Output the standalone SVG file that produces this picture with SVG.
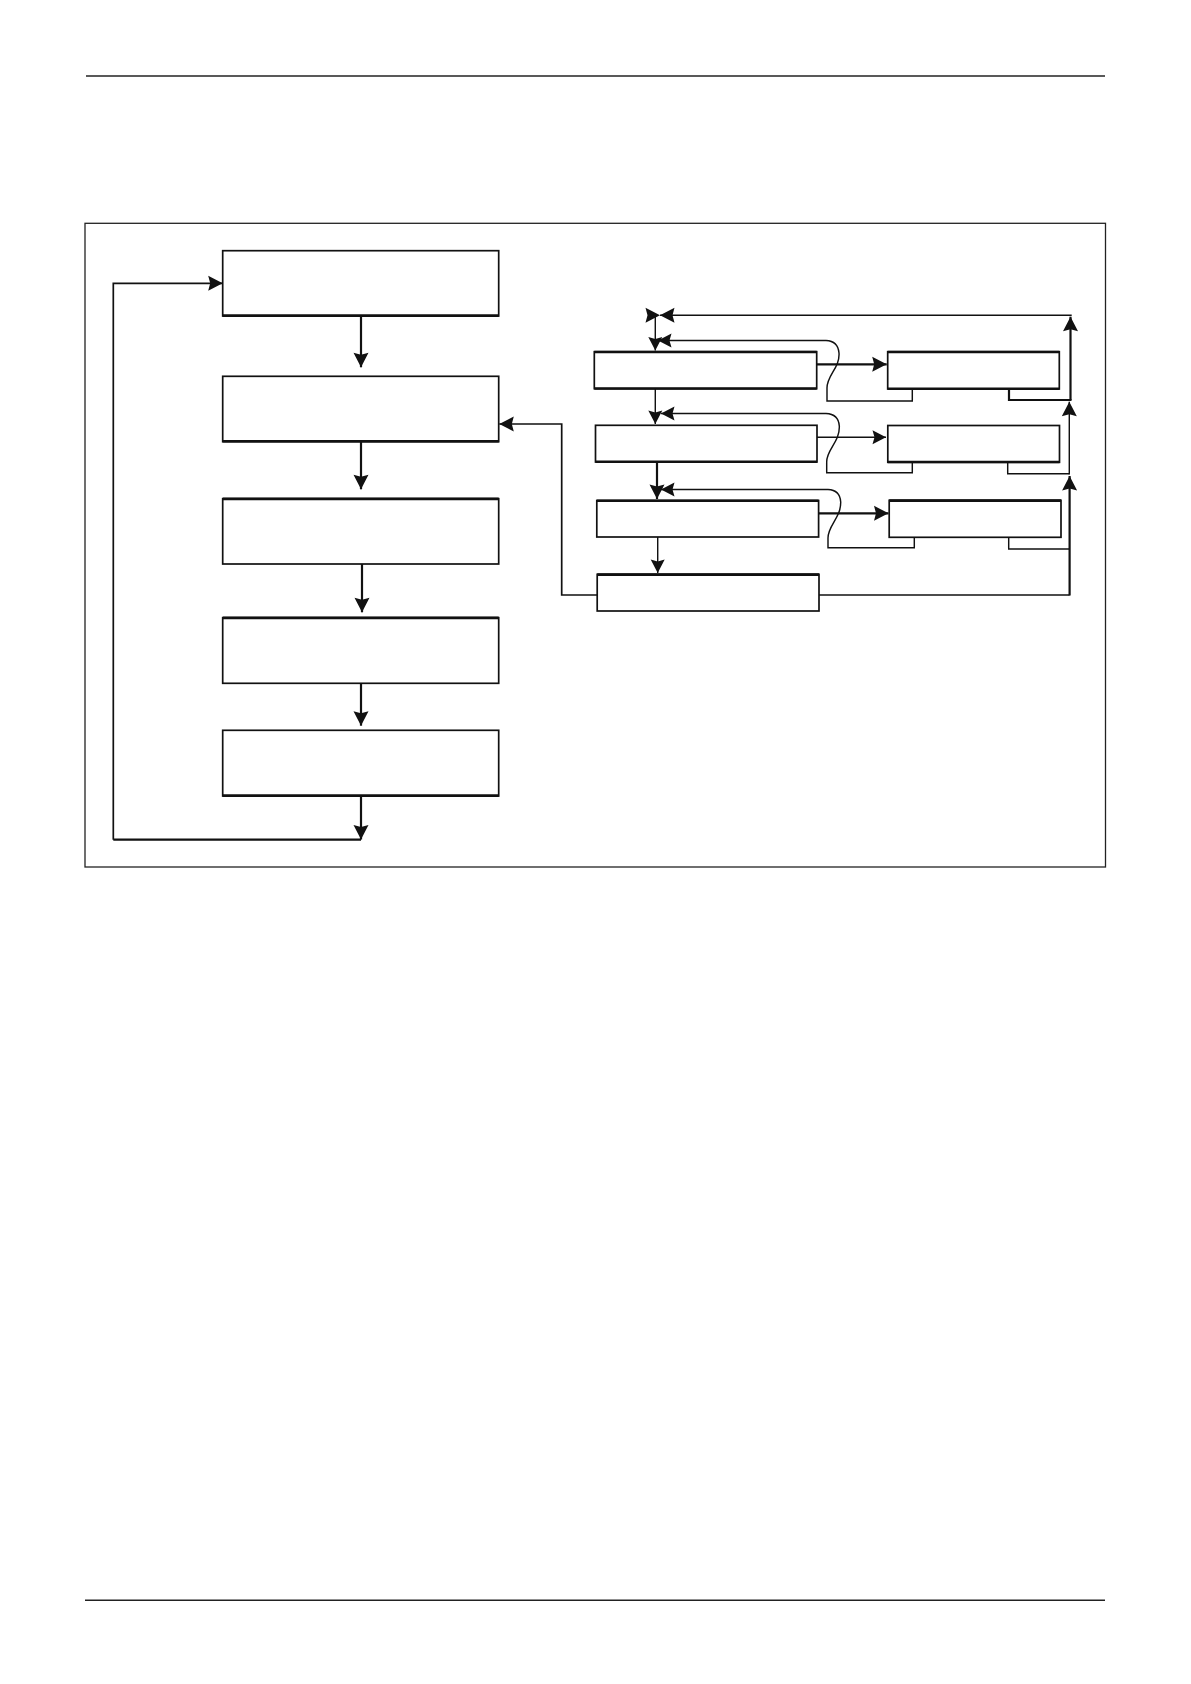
<svg xmlns="http://www.w3.org/2000/svg" width="1191" height="1684" viewBox="0 0 1191 1684">
<style>
.box{fill:#fff;stroke:#111;stroke-width:1.7}
.bb{stroke:#111;stroke-width:2.6;fill:none}
.c{fill:none;stroke:#111;stroke-linejoin:miter}
.t1{stroke-width:1.45}
.t2{stroke-width:1.7}
.t3{stroke-width:2.2}
.rule{stroke:#222;stroke-width:1.6}
</style>
<defs>
<marker id="ah" viewBox="-16 -8 17 16" markerWidth="17" markerHeight="16" refX="0" refY="0" markerUnits="userSpaceOnUse" orient="auto">
<path d="M0,0 L-14.5,-7.5 L-12.5,0 L-14.5,7.5 Z" fill="#111"/>
</marker>
<marker id="as" viewBox="-15 -8 16 16" markerWidth="16" markerHeight="16" refX="0" refY="0" markerUnits="userSpaceOnUse" orient="auto">
<path d="M0,0 L-13.5,-7 L-11.5,0 L-13.5,7 Z" fill="#111"/>
</marker>
</defs>
<rect width="1191" height="1684" fill="#fff"/>
<line class="rule" x1="86" y1="76" x2="1105" y2="76"/>
<line class="rule" x1="85" y1="1600.3" x2="1105" y2="1600.3"/>
<rect x="85" y="223.3" width="1020.5" height="643.7" fill="none" stroke="#222" stroke-width="1.3"/>

<g id="box1"><rect class="box" x="222.7" y="250.7" width="276" height="65.3"/><line class="bb" x1="222.7" y1="315.6" x2="498.7" y2="315.6"/></g>
<g id="box2"><rect class="box" x="222.7" y="376.3" width="276" height="65.4"/><line class="bb" x1="222.7" y1="441.3" x2="498.7" y2="441.3"/></g>
<g id="box3"><rect class="box" x="222.7" y="498.7" width="276" height="65.3"/><line class="bb" x1="222.7" y1="498.9" x2="498.7" y2="498.9"/></g>
<g id="box4"><rect class="box" x="222.7" y="617.7" width="276" height="65.6"/><line class="bb" x1="222.7" y1="617.9" x2="498.7" y2="617.9"/></g>
<g id="box5"><rect class="box" x="222.7" y="730.3" width="276" height="65.7"/><line class="bb" x1="222.7" y1="795.6" x2="498.7" y2="795.6"/></g>

<g id="boxA"><rect class="box" x="594.3" y="351.7" width="222.4" height="37"/><line class="bb" x1="594.3" y1="388.5" x2="816.7" y2="388.5"/><line class="bb" x1="594.3" y1="352" x2="816.7" y2="352"/></g>
<g id="boxA2"><rect class="box" x="887.7" y="351.7" width="171.6" height="37.3"/><line class="bb" x1="887.7" y1="388.7" x2="1059.3" y2="388.7"/><line class="bb" x1="887.7" y1="352" x2="1059.3" y2="352"/></g>
<g id="boxB"><rect class="box" x="595.5" y="425.3" width="221.5" height="36.7"/><line class="bb" x1="595.5" y1="461.7" x2="817" y2="461.7"/></g>
<g id="boxB2"><rect class="box" x="887.8" y="425.5" width="171.7" height="36.8"/><line class="bb" x1="887.8" y1="462" x2="1059.5" y2="462"/></g>
<g id="boxC"><rect class="box" x="596.8" y="500.5" width="221.8" height="36.5"/><line class="bb" x1="596.8" y1="500.8" x2="818.6" y2="500.8"/></g>
<g id="boxC2"><rect class="box" x="889.2" y="500.3" width="171.8" height="37"/><line class="bb" x1="889.2" y1="500.6" x2="1061" y2="500.6"/></g>
<g id="boxD"><rect class="box" x="597.2" y="574.3" width="221.8" height="36.7"/><line class="bb" x1="597.2" y1="574.6" x2="819" y2="574.6"/></g>

<g id="connectors">
<path class="c t3" d="M361 316 V367.3" marker-end="url(#ah)"/>
<path class="c t3" d="M361 441.7 V489.3" marker-end="url(#ah)"/>
<path class="c t3" d="M362 564 V612.3" marker-end="url(#ah)"/>
<path class="c t3" d="M361 683.3 V725.7" marker-end="url(#ah)"/>
<path class="c t3" d="M361 796 V839.5" marker-end="url(#ah)"/>
<path class="c t3" d="M361 839.7 H113.3"/>
<path class="c t2" d="M113.3 839.7 V283.3 H222.7" marker-end="url(#ah)"/>
<path class="c t2" d="M597.2 595 H561.7 V424 H499.3" marker-end="url(#ah)"/>

<path class="c t1" d="M1071.7 315.3 H660" marker-end="url(#ah)"/>
<path d="M660 315.3 L645.5 307.8 L647.5 315.3 L645.5 322.8 Z" fill="#111"/>
<path class="c t1" d="M655.3 315.3 V350.5" marker-end="url(#as)"/>
<path class="c t3" d="M1070.5 400 V316.7" marker-end="url(#ah)"/>
<path class="c t1" d="M912.3 389 V401 H827 V388 C827 375 840 368 839 353 Q838 341 826 340.5 H658" marker-end="url(#as)"/>
<path class="c t3" d="M816.7 364.3 H886.7" marker-end="url(#ah)"/>
<path class="c t3" d="M1009 389 V400 H1071.5"/>

<path class="c t1" d="M655.3 389 V424" marker-end="url(#as)"/>
<path class="c t1" d="M912.3 462.3 V472.7 H826.7 V461.7 C826.7 449 840 442 839.3 426 Q838.5 414 826 413.5 H661" marker-end="url(#as)"/>
<path class="c t1" d="M817 437.3 H886" marker-end="url(#as)"/>
<path class="c t1" d="M1007.7 462.3 V473.7 H1069.3"/>
<path class="c t1" d="M1069.3 474.5 V401.7" marker-end="url(#ah)"/>

<path class="c t3" d="M657 462 V499" marker-end="url(#ah)"/>
<path class="c t1" d="M914.3 537.3 V547.7 H828 V538 C828 525 841 518 840.7 502 Q840 490 828 489.5 H661" marker-end="url(#as)"/>
<path class="c t3" d="M818.6 513.3 H888.5" marker-end="url(#ah)"/>
<path class="c t1" d="M1008.7 537.3 V549 H1069.6"/>
<path class="c t1" d="M657.7 537 V573" marker-end="url(#as)"/>
<path class="c t1" d="M819 595 H1069.6"/>
<path class="c t3" d="M1069.6 595.5 V476" marker-end="url(#ah)"/>
</g>
</svg>
